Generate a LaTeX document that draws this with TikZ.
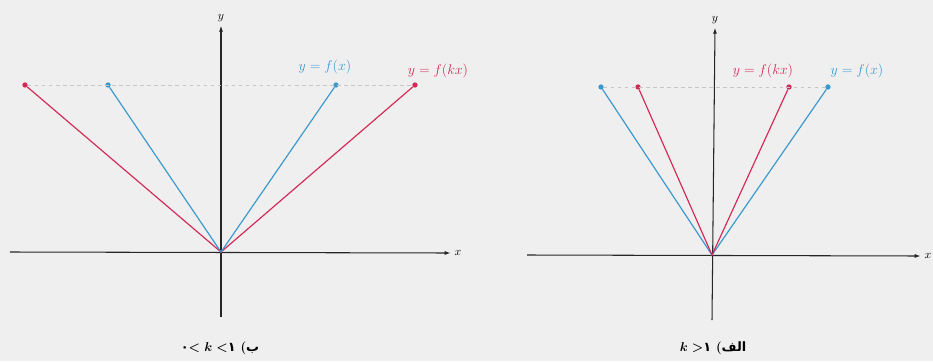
\documentclass[tikz,border=0pt]{standalone}
\usepackage{amsmath, amssymb}
\usepackage{fontspec}
\usetikzlibrary{arrows.meta}
\newfontfamily\arabicfont[Script=Arabic]{DejaVu Sans}
\TeXXeTstate=1
\definecolor{fblue}{RGB}{58,152,204}
\definecolor{fred}{RGB}{212,42,88}
\definecolor{paper}{RGB}{239,239,239}

\begin{document}
\begin{tikzpicture}[x=0.03cm, y=-0.03cm,
  axis/.style={draw=black!85, line width=0.9pt, -{Latex[length=5pt, width=3.5pt]}},
  graph/.style={line width=1pt},
  dot/.style={circle, fill, inner sep=0pt, minimum size=4.5pt},
  guide/.style={draw=gray!45, dashed, line width=0.6pt},
  eqn/.style={font=\fontsize{13}{15}\selectfont},
  caption/.style={font=\fontsize{11}{13}\selectfont\bfseries}]
  \fill[paper] (0,0) rectangle (933,361);
  \useasboundingbox (0,0) rectangle (933,361);

  \coordinate (O1) at (221,252);
  \coordinate (xs1) at (10,252);
  \coordinate (ys1) at (221,317);
  \node (x1) at (458,253) {$x$};
  \node (y1) at (221,18) {$y$};
  \draw[axis] (xs1) -- (x1.west);
  \draw[axis] (ys1) -- (y1.south);
  \node[dot, fred] (r1l) at (25,85) {};
  \node[dot, fblue] (b1l) at (108,85) {};
  \node[dot, fblue] (b1r) at (336,85) {};
  \node[dot, fred] (r1r) at (415,85) {};
  \draw[guide] (r1l) -- (r1r);
  \draw[graph, fred] (r1l) -- (O1) -- (r1r);
  \draw[graph, fblue] (b1l) -- (O1) -- (b1r);
  \node[fblue, eqn] (lb1) at (325,67) {$y=f(x)$};
  \node[fred, eqn] (lr1) at (438,71) {$y=f(kx)$};
  \node[caption] (cap1) at (220,348) {\beginR{\arabicfont ب}( \beginL{\arabicfont ۰}$\boldsymbol{<k<}${\arabicfont ۱}\endL\endR};

  \coordinate (O2) at (712,255);
  \coordinate (xs2) at (527,255);
  \coordinate (ys2) at (712,320);
  \node (x2) at (928,256) {$x$};
  \node (y2) at (715,20) {$y$};
  \draw[axis] (xs2) -- (x2.west);
  \draw[axis] (ys2) -- (y2.south);
  \node[dot, fblue] (b2l) at (601,87) {};
  \node[dot, fred] (r2l) at (638,87) {};
  \node[dot, fred] (r2r) at (789,87) {};
  \node[dot, fblue] (b2r) at (828,87) {};
  \draw[guide] (b2l) -- (b2r);
  \draw[graph, fblue] (b2l) -- (O2) -- (b2r);
  \draw[graph, fred] (r2l) -- (O2) -- (r2r);
  \node[fred, eqn] (lr2) at (763,71) {$y=f(kx)$};
  \node[fblue, eqn] (lb2) at (857,71) {$y=f(x)$};
  \node[caption] (cap2) at (713,348) {\beginR{\arabicfont الف}( \beginL$\boldsymbol{k>}${\arabicfont ۱}\endL\endR};
\end{tikzpicture}
\end{document}
